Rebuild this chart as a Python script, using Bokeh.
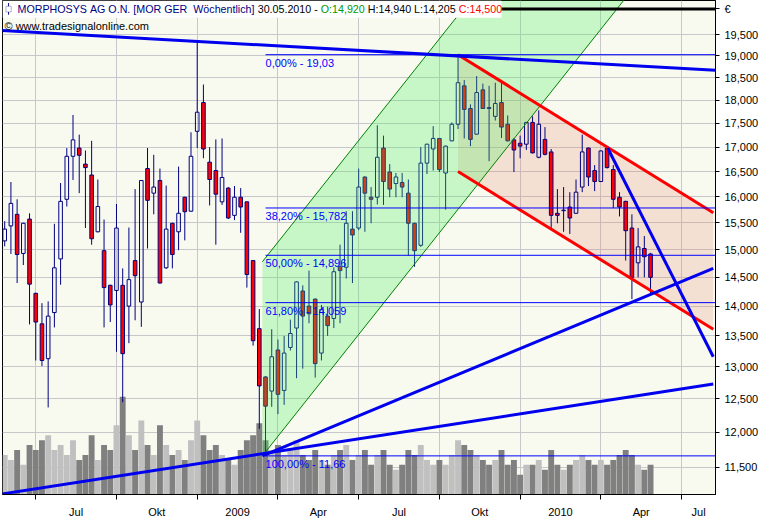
import pandas as pd
from bokeh.plotting import figure
from bokeh.models import (ColumnDataSource, Range1d, FixedTicker, CustomJSTickFormatter,
                          Label, Span, LinearScale, BoxAnnotation)
from bokeh.embed import file_html
from bokeh.resources import INLINE
from bokeh.core.properties import value

# ---------------- data (weekly bars, EUR) ----------------
dates = pd.date_range("2008-05-30", periods=105, freq="7D")
opens = [15.16, 15.44, 15.66, 14.93, 15.57, 14.22, 13.70, 13.13, 13.89, 14.83,
         15.95, 16.81, 16.98, 16.65, 16.43, 15.33, 14.98, 14.36, 14.27, 14.36,
         14.00, 14.80, 14.07, 16.56, 16.07, 16.32, 14.67, 15.49, 15.33, 15.99,
         15.72, 17.33, 17.95, 16.69, 16.52, 15.90, 16.17, 15.64, 15.99, 15.90,
         14.80, 13.62, 12.84, 12.62, 13.27, 12.63, 13.31, 13.63, 14.26, 14.00,
         14.12, 13.22, 13.83, 13.79, 14.69, 14.68, 15.38, 15.40, 16.39, 15.99,
         15.99, 16.98, 16.49, 16.26, 16.28, 16.07, 15.49, 15.08, 16.67, 16.96,
         17.18, 16.47, 17.13, 17.48, 18.32, 17.82, 17.27, 18.23, 17.84, 17.65,
         17.95, 17.48, 17.15, 17.08, 17.06, 17.52, 16.79, 17.16, 16.90, 15.68,
         15.73, 15.80, 15.68, 16.19, 16.98, 16.52, 16.30, 16.98, 16.54, 15.99,
         15.91, 15.40, 14.76, 15.02, 14.92]
highs = [15.53, 16.29, 15.95, 15.50, 15.68, 14.23, 14.05, 14.08, 15.48, 16.27,
         16.98, 17.68, 17.26, 16.93, 17.13, 16.34, 15.56, 14.37, 15.86, 14.66,
         15.41, 16.15, 16.33, 16.98, 16.84, 16.56, 16.22, 15.50, 16.60, 16.00,
         17.31, 19.35, 18.35, 17.00, 17.16, 17.18, 16.19, 16.21, 16.17, 15.91,
         14.81, 13.95, 12.85, 13.61, 13.44, 13.50, 13.77, 14.43, 14.36, 14.62,
         14.13, 14.02, 13.99, 14.68, 15.09, 15.72, 15.72, 16.56, 16.40, 16.19,
         17.46, 17.24, 16.65, 16.47, 16.47, 16.34, 15.50, 17.00, 17.07, 17.44,
         17.19, 17.03, 17.52, 19.03, 18.45, 17.91, 18.54, 18.37, 18.32, 18.39,
         18.45, 17.67, 17.19, 17.24, 17.53, 17.65, 17.78, 17.42, 16.96, 16.15,
         16.19, 16.09, 16.34, 17.26, 16.99, 16.63, 16.93, 16.99, 16.63, 16.09,
         15.92, 15.66, 15.40, 15.25, 14.94]
lows = [15.06, 14.92, 14.40, 14.72, 13.69, 13.10, 13.01, 12.37, 13.64, 14.37,
        15.81, 16.33, 16.07, 15.40, 15.09, 15.32, 13.64, 13.73, 13.24, 12.45,
        13.38, 13.76, 13.65, 15.02, 15.66, 14.39, 14.65, 14.66, 14.99, 15.17,
        15.71, 16.98, 16.77, 15.83, 15.09, 15.84, 15.57, 15.55, 15.31, 14.32,
        13.34, 12.05, 11.66, 12.38, 12.27, 12.41, 13.26, 12.82, 12.97, 13.71,
        12.83, 13.10, 13.50, 13.63, 13.71, 14.48, 14.40, 15.36, 15.33, 15.49,
        15.85, 15.84, 15.99, 15.99, 15.99, 14.89, 14.69, 15.05, 16.45, 16.52,
        16.49, 15.75, 17.12, 17.38, 17.18, 17.02, 17.26, 17.81, 16.71, 17.56,
        17.19, 17.12, 16.49, 16.77, 16.94, 16.87, 16.77, 16.83, 15.40, 15.49,
        15.33, 15.29, 15.67, 16.09, 16.21, 16.11, 16.29, 16.56, 15.78, 15.62,
        14.80, 14.12, 14.50, 14.50, 14.205]
closes = [15.38, 15.87, 14.91, 15.49, 14.38, 13.73, 13.10, 13.83, 14.67, 15.91,
          16.81, 17.15, 16.83, 16.58, 15.20, 15.81, 14.32, 14.02, 15.40, 13.21,
          14.46, 14.53, 16.32, 15.93, 16.19, 14.40, 15.38, 14.91, 15.68, 15.71,
          16.81, 17.74, 16.96, 16.34, 16.05, 16.38, 15.59, 15.99, 15.80, 14.55,
          13.42, 12.70, 12.39, 13.16, 12.57, 13.22, 13.54, 14.42, 13.83, 13.87,
          13.05, 13.94, 13.67, 14.60, 14.62, 15.49, 15.27, 16.19, 16.07, 15.95,
          16.79, 16.30, 16.15, 16.39, 16.19, 15.49, 14.98, 16.67, 17.06, 17.18,
          16.54, 17.02, 17.48, 18.39, 17.80, 17.16, 18.17, 17.82, 17.82, 17.93,
          17.42, 17.13, 16.94, 17.02, 17.52, 16.88, 17.48, 16.85, 15.64, 15.64,
          15.74, 15.59, 16.09, 16.90, 16.39, 16.30, 16.92, 16.58, 15.95, 15.80,
          15.35, 14.50, 15.05, 14.87, 14.50]
volume = [400, 350, 450, 300, 500, 450, 550, 600, 450, 500,
          400, 550, 350, 400, 600, 350, 500, 450, 700, 990,
          600, 450, 750, 500, 400, 700, 500, 400, 450, 350,
          550, 750, 600, 450, 500, 400, 350, 300, 450, 550,
          600, 720, 550, 450, 500, 400, 450, 550, 400, 350,
          450, 350, 300, 400, 450, 500, 350, 400, 450, 300,
          400, 450, 300, 250, 300, 450, 400, 500, 350, 300,
          350, 300, 400, 550, 500, 450, 400, 350, 300, 350,
          450, 300, 350, 200, 300, 300, 350, 250, 450, 300,
          250, 300, 350, 400, 350, 300, 350, 300, 350, 400,
          450, 400, 300, 250, 300]  # thousand shares

# quarter tick labels
q_dates = pd.to_datetime(["2008-07-01", "2008-10-01", "2009-01-01", "2009-04-01", "2009-07-01",
                          "2009-10-01", "2010-01-01", "2010-04-01", "2010-07-01"])
q_labels = ["Jul", "Okt", "2009", "Apr", "Jul", "Okt", "2010", "Apr", "Jul"]
y_ticks = [11.5, 12.0, 12.5, 13.0, 13.5, 14.0, 14.5, 15.0, 15.5, 16.0,
           16.5, 17.0, 17.5, 18.0, 18.5, 19.0, 19.5]

# Fibonacci retracement (log) from the 2009 low to the 2009 high
fib_levels = [19.03, 15.782, 14.896, 14.059, 11.66]
fib_labels = ["0,00% - 19,03", "38,20% - 15,782", "50,00% - 14,896",
              "61,80% - 14,059", "100,00% - 11,66"]
fib_start = 42

# trend line anchors (bar index, price)
line_a = ([-0.45, 114.46], [19.60, 18.67])     # long-term resistance
line_b = ([41.5, 114.1], [11.66, 14.66])       # support from 2009 low (steep)
line_c = ([-0.45, 114.1], [11.13, 12.73])      # support from 2008 (flat)
line_d = ([97.1, 114.1], [16.98, 13.16])       # short-term downtrend
red_up = ([73, 114.1], [19.03, 15.69])         # downtrend channel
red_lo = ([73, 114.1], [16.50, 13.61])
green_lo = ([41.5, 103.05], [11.66, 21.0])     # uptrend channel
green_up = ([41.5, 78.28], [14.78, 21.0])
top_line = 20.125                               # black line at the top of the chart (currency row)

# ---------------- figure ----------------
n = len(opens)
idx = list(range(n))
X_START, X_END = -0.354, 114.46
Y_BOTTOM, Y_TOP = 11.123, 20.332
VOL_TOP = 5000

p = figure(width=769, height=520, y_axis_type="log", y_axis_location="right",
           x_range=Range1d(X_START, X_END), y_range=Range1d(Y_BOTTOM, Y_TOP),
           output_backend="svg", toolbar_location=None,
           min_border_left=2, min_border_right=54, min_border_top=0, min_border_bottom=20,
           background_fill_color="#F8FAF0", border_fill_color="white",
           outline_line_color="black", outline_line_width=1)
p.extra_y_ranges = {"vol": Range1d(0, VOL_TOP)}
p.extra_y_scales = {"vol": LinearScale()}

ext_dates = pd.date_range(dates[0], periods=n + 20, freq="7D")
q_idx = [int((ext_dates >= d).argmax()) for d in q_dates]
mids = [(q_idx[k] + (q_idx[k + 1] if k + 1 < len(q_idx) else X_END)) / 2 for k in range(len(q_idx))]

p.xaxis.ticker = FixedTicker(ticks=mids, minor_ticks=q_idx)
p.xaxis.formatter = CustomJSTickFormatter(args=dict(pos=mids, labs=q_labels), code="""
    for (let i = 0; i < pos.length; i++) { if (Math.abs(pos[i] - tick) < 1e-6) return labs[i]; }
    return '';""")
p.xaxis.major_tick_out = 0
p.xaxis.major_tick_in = 0
p.xaxis.minor_tick_out = 5
p.xaxis.minor_tick_in = 0
p.xaxis.minor_tick_line_color = "black"
p.xaxis.major_label_standoff = 6
p.xgrid.ticker = FixedTicker(ticks=q_idx)

# price axis; the top black line carries the currency sign
p.yaxis.ticker = FixedTicker(ticks=y_ticks + [top_line])
p.yaxis.formatter = CustomJSTickFormatter(args=dict(cur=top_line), code="""
    if (Math.abs(tick - cur) < 1e-9) return '\u20ac';
    return tick.toFixed(3).replace('.', ',');""")
p.yaxis.major_tick_out = 4
p.yaxis.major_tick_in = 0
p.yaxis.minor_tick_line_color = None
p.yaxis.major_label_standoff = 5
p.ygrid.ticker = FixedTicker(ticks=y_ticks)

for ax in (p.xaxis, p.yaxis):
    ax.axis_line_color = "black"
    ax.major_tick_line_color = "black"
    ax.major_label_text_font = "Liberation Sans"
    ax.major_label_text_font_size = "11px"
    ax.major_label_text_color = "black"
for g in (p.xgrid, p.ygrid):
    g.grid_line_color = "#C8C8CC"
    g.grid_line_width = 1

# volume
up = [c >= o for o, c in zip(opens, closes)]
vol_colors = ["#C0C0C0" if u else "#808080" for u in up]
p.vbar(x=idx, top=volume, bottom=0, width=0.95, y_range_name="vol",
       fill_color=vol_colors, line_color=None)

# downtrend channel fill (under the candles)
p.patch(x=red_up[0] + red_lo[0][::-1], y=red_up[1] + red_lo[1][::-1],
        fill_color=(230, 120, 90), fill_alpha=0.2, line_color=None)

# candles
src = ColumnDataSource(dict(
    x=idx, high=highs, low=lows,
    top=[max(o, c) for o, c in zip(opens, closes)],
    bot=[min(o, c) for o, c in zip(opens, closes)],
    alpha=[0.0 if u else 1.0 for u in up]))
p.segment(x0="x", y0="high", x1="x", y1="top", source=src, line_color="#000080", line_width=1)
p.segment(x0="x", y0="bot", x1="x", y1="low", source=src, line_color="#000080", line_width=1)
p.vbar(x="x", top="top", bottom="bot", width=0.58, source=src, fill_color="#FF0000",
       fill_alpha="alpha", line_color="#000080", line_width=1)

# uptrend channel (semi transparent, over candles)
p.patch(x=green_lo[0] + green_up[0][::-1], y=green_lo[1] + green_up[1][::-1],
        fill_color=(72, 239, 92), fill_alpha=0.28, line_color=None)
for gx, gy in (green_lo, green_up):
    p.line(gx, gy, line_color="#008000", line_width=1)

# red channel lines
for rx, ry in (red_up, red_lo):
    p.line(rx, ry, line_color="#FF0000", line_width=3)

# fibonacci lines
p.segment(x0=[fib_start] * len(fib_levels), x1=[X_END] * len(fib_levels),
          y0=fib_levels, y1=fib_levels, line_color="#0000FF", line_width=1)

# blue trend lines
for bx, by in (line_a, line_b, line_c, line_d):
    p.line(bx, by, line_color="#0000EE", line_width=3)

p.text(x=[fib_start] * len(fib_levels), y=fib_levels, text=fib_labels,
       text_baseline="top", text_align="left", y_offset=2,
       text_font=value("Liberation Sans"), text_font_size="11px", text_color="#0000FF")

# top black line, title box, header texts
p.add_layout(Span(location=top_line, dimension="width", line_color="black", line_width=3))
p.add_layout(BoxAnnotation(left=X_START, right=80.0, bottom=19.91, top=Y_TOP,
                           fill_color="white", fill_alpha=1.0, line_color=None))
# small candle icon
p.add_layout(BoxAnnotation(left=0.55, right=0.70, bottom=19.98, top=20.27,
                           fill_color="#000080", fill_alpha=1.0, line_color=None))
p.add_layout(BoxAnnotation(left=0.20, right=1.05, bottom=20.05, top=20.19,
                           fill_color="white", fill_alpha=1.0, line_color="#000080", line_width=1))

W = {' ': 569, '\u00a0': 569, '-': 682, '.': 569, ',': 569, ':': 569, '[': 569, ']': 569,
     'A': 1366, 'C': 1479, 'E': 1366, 'G': 1593, 'H': 1479, 'L': 1139, 'M': 1706,
     'N': 1479, 'O': 1593, 'P': 1366, 'R': 1479, 'S': 1366, 'Y': 1366, 'W': 1933,
     'c': 1024, 'e': 1139, 'h': 1139, 'i': 455, 'l': 455, 'n': 1139, 't': 569, 'ö': 1139}
TITLE_PX = 10.7


def tw(s, px=TITLE_PX):
    return sum(W.get(ch, 1139) for ch in s) / 2048 * px


fmt = lambda v: f"{v:.3f}".replace(".", ",")
last_date = "30.05.2010"
NB = "\u00a0"
segments = [("MORPHOSYS AG O.N. [MOR GER  Wöchentlich] ", "#000080"),
            (last_date + " - ", "black"),
            ("O:" + fmt(opens[-1]), "#009900"),
            (" H:" + fmt(highs[-1]) + " L:" + fmt(lows[-1]) + " ", "black"),
            ("C:" + fmt(closes[-1]), "#FF0000")]
xpos = 15
for txt, col in segments:
    txt = txt.replace(" ", NB)
    p.add_layout(Label(x=xpos, y=20.11, x_units="screen", y_units="data", text=txt,
                       text_color=col, text_font="Liberation Sans", text_font_size=f"{TITLE_PX}px",
                       text_baseline="middle", text_align="left"))
    xpos += tw(txt)

p.add_layout(Label(x=2, y=19.70, x_units="screen", y_units="data",
                   text="© www.tradesignalonline.com", text_color="black",
                   text_font="Liberation Sans", text_font_size="11px", text_baseline="middle"))

open("out.html", "w").write(file_html(p, INLINE))
